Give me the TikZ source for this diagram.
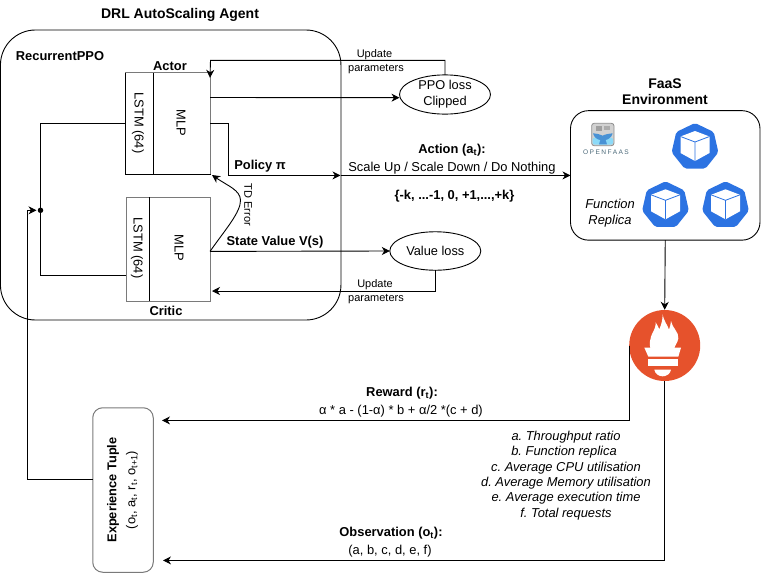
\documentclass[tikz,border=0pt]{standalone}
\usepackage{fontspec}
\setmainfont{Liberation Sans}
\usetikzlibrary{arrows.meta,shapes.geometric,calc}
\definecolor{edgegray}{HTML}{7A7A7A}
\definecolor{kubeblue}{HTML}{2C73E2}
\definecolor{promorange}{HTML}{E6522C}
\newcommand{\sz}[1]{\frenchspacing\fontsize{#1}{#1}\selectfont}
\tikzset{
  wire/.style={draw=black,line width=0.9pt},
  flow/.style={wire,-{Stealth[length=8pt,width=8pt,inset=2.5pt]}},
  block/.style={draw=black,line width=1pt,rectangle,inner sep=0pt,outer sep=0pt},
  panel/.style={draw=black,line width=0.9pt,rectangle,inner sep=0pt,outer sep=0pt},
  lossnode/.style={draw=black,line width=0.9pt,ellipse,inner sep=0pt,outer sep=0pt,align=center,font=\sz{12.8}},
  label/.style={inner sep=0pt,outer sep=0pt,align=center,font=\sz{12.9}},
  boldlabel/.style={label,font=\sz{12.9}\bfseries},
  titlelabel/.style={label,font=\sz{14}\bfseries},
  smalllabel/.style={label,font=\sz{11}},
  itlabel/.style={label,font=\sz{12.9}\itshape},
  pics/kubecube/.style={code={
    \fill[kubeblue,rounded corners=2pt] (-90:24) -- (-38.6:24) -- (12.9:24) -- (64.3:24)
       -- (115.7:24) -- (167.1:24) -- (218.6:24) -- cycle;
    \fill[white] (0,-16) -- (14.5,-10.5) -- (14.5,6) -- (0,14) -- (-14.5,6) -- (-14.5,-10.5) -- cycle;
    \draw[kubeblue,line width=0.8pt] (-14.5,-10.5) -- (0,-5) -- (14.5,-10.5) (0,-5) -- (0,14);
  }}
}
\begin{document}
\begin{tikzpicture}[x=1pt,y=-1pt]
\useasboundingbox (0,0) rectangle (761,573);

% agent container
\node[panel,rounded corners=35pt,minimum width=340.5pt,minimum height=290pt] (agent) at (170.7,175) {};
\node[titlelabel] (agenttitle) at (180,15) {DRL AutoScaling Agent};
\node[boldlabel] (ppotitle) at (60,56) {RecurrentPPO};

% actor network
\node[block,minimum width=28pt,minimum height=102pt] (actorL) at (139,123) {};
\node[block,minimum width=57pt,minimum height=102pt] (actorM) at (181.5,123) {};
\draw[edgegray,line width=1pt] (actorL.north west) -- (actorM.north east) -- (actorM.south east);
\node[label,rotate=-90] (actorLt) at (138,123) {LSTM (64)};
\node[label,rotate=-90] (actorMt) at (181,123) {MLP};
\node[boldlabel] (actorname) at (170,66) {Actor};

% critic network
\node[block,draw=edgegray,minimum width=84pt,minimum height=104pt] (critic) at (168,249) {};
\node[block,draw=none,minimum width=23.5pt,minimum height=104pt] (criticL) at (137.75,249) {};
\node[block,draw=none,minimum width=60.5pt,minimum height=104pt] (criticM) at (179.75,249) {};
\draw[black,line width=1pt] (criticL.north east) -- (criticL.south east);
\node[label,rotate=-90] (criticLt) at (137,248) {LSTM (64)};
\node[label,rotate=-90] (criticMt) at (179,248) {MLP};
\node[boldlabel] (criticname) at (166,311) {Critic};

% shared input junction
\node[circle,fill=black,inner sep=0pt,minimum size=5.5pt] (merge) at (40.5,210.3) {};

% losses
\node[lossnode,minimum width=91pt,minimum height=39pt] (ppo) at (445,94.5) {PPO loss\\[3pt]Clipped};
\node[lossnode,minimum width=91pt,minimum height=38.5pt] (vloss) at (435.3,251) {Value loss};

% FaaS environment
\node[panel,rounded corners=18pt,minimum width=189.5pt,minimum height=129.5pt] (faas) at (665.25,175.4) {};
\node[titlelabel] (faastitle) at (665,91.5) {FaaS\\[1.5pt]Environment};
\node[itlabel] (replica) at (610,213.5) {Function\\[3pt]Replica};
\pic at (695,147) {kubecube};
\pic at (665.5,205.3) {kubecube};
\pic at (725.5,205.3) {kubecube};

% OpenFaaS logo
\begin{scope}[shift={(575,115)},x=0.3333pt,y=-0.3333pt]
  \draw[fill=gray!35,draw=gray!90,line width=0.8pt,rounded corners=2.5pt] (50,25) rectangle (117,92);
  \fill[gray!75] (63,32) rectangle (80,47);
  \fill[gray!65] (86,34) rectangle (106,46);
  \fill[cyan!45!white,rounded corners=2pt] (53,68) rectangle (114,89);
  \fill[cyan!60!blue!75!white] (54,55) .. controls (66,56) and (76,58) .. (83,62)
     .. controls (90,58) and (102,56) .. (113,55) .. controls (110,68) and (98,74) .. (92,75)
     -- (96,88) -- (72,88) -- (76,75) .. controls (68,74) and (57,68) .. (54,55) -- cycle;
\end{scope}
\node[inner sep=0pt,text=cyan!40!black,font={\sz{6.6}\addfontfeatures{LetterSpace=22}}] (faaslogo) at (606,152.5) {OPENFAAS};

% Prometheus logo
\node[circle,fill=promorange,inner sep=0pt,minimum size=71pt] (prom) at (664.7,345.5) {};
\begin{scope}[shift={(625,305)},x=0.3333pt,y=-0.3333pt]
  \fill[white] (113,28) .. controls (117,50) and (128,60) .. (132,74)
     .. controls (135,66) and (137,58) .. (138,48)
     .. controls (142,70) and (162,80) .. (160,100)
     .. controls (158,113) and (150,120) .. (148,128) -- (168,128) -- (160,155) -- (70,155) -- (58,128) -- (76,128)
     .. controls (72,115) and (76,105) .. (78,95)
     .. controls (82,80) and (92,75) .. (92,52)
     .. controls (96,60) and (101,66) .. (103,73)
     .. controls (109,58) and (113,45) .. (113,28) -- cycle;
  \fill[white] (68,163) rectangle (158,182);
  \fill[white] (88,194) -- (138,194) .. controls (136,207) and (124,214) .. (113,214)
     .. controls (102,214) and (90,207) .. (88,194) -- cycle;
\end{scope}

% experience buffer
\node[draw=edgegray,line width=1pt,rectangle,rounded corners=10pt,inner sep=0pt,outer sep=0pt,
      minimum width=60.5pt,minimum height=164.5pt] (exp) at (123,490) {};
\node[titlelabel,rotate=90,font=\sz{12.8}\bfseries] (exptitle) at (113,490) {Experience Tuple};
\node[label,rotate=90] (expsub) at (132,490) {(o\textsubscript{t}, a\textsubscript{t}, r\textsubscript{t}, o\textsubscript{t+1})};

% free ends of connectors
\coordinate (actionsplit) at (340.5,175.4);
\coordinate (rewardend) at (162,420.4);
\coordinate (obsend) at (163,560.4);
\coordinate (ppoupdate) at ([yshift=-5.8pt]actorM.north east);
\coordinate (vupdate) at ([xshift=2pt,yshift=10pt]critic.south east);

% connectors
\draw[wire] (actorL.west) -| (merge.center);
\draw[wire] ([yshift=-26pt]criticL.west -| critic.west) -| (merge.center);
\draw[flow] ([yshift=11pt]exp.west) -| ([xshift=-13.5pt]merge.center) -- ([xshift=-4pt]merge.center);
\draw[flow] ([yshift=25.5pt]actorM.east) -- ([yshift=-3.2pt]ppo.west);
\draw[flow] (ppo.north) |- ($(actorM.north east)+(0.5,-11.7)$) -- (ppoupdate);
\draw[flow] (actorM.east) -- ++(18.5,0) |- (actionsplit);
\draw[flow] (actionsplit) -- (faas.west);
\draw[flow] ([yshift=-2.4pt]criticM.east) -- (vloss.west);
\draw[flow] (vloss.south) |- (vupdate);
\draw[flow] ([yshift=-2.4pt]criticM.east) .. controls (225,230) and (241,212) .. (240.5,200)
   .. controls (240,190) and (228,186) .. ([xshift=2pt,yshift=-1pt]actorM.south east);
\draw[flow] (faas.south) -- (prom.north);
\draw[flow] (prom.west) |- (rewardend);
\draw[flow] (prom.south) |- (obsend);

% connector and signal labels
\node[smalllabel] (upd1) at (374.5,55) {Update};
\node[smalllabel] (upd1b) at (376,69) {parameters};
\node[smalllabel] (upd2) at (375,285) {Update};
\node[smalllabel] (upd2b) at (376,299) {parameters};
\node[smalllabel,rotate=-90] (tderr) at (248,205) {TD Error};
\node[boldlabel] (policy) at (260,166) {Policy π};
\node[boldlabel] (stateval) at (275,242) {State Value V(s)};
\node[boldlabel] (actiontitle) at (452,150.5) {Action (a\textsubscript{t}):};
\node[label] (actionopts) at (452,168) {Scale Up / Scale Down / Do Nothing};
\node[boldlabel] (actionset) at (454.5,196) {\{-k, ...-1, 0, +1,...,+k\}};
\node[boldlabel] (rewardtitle) at (402,393) {Reward (r\textsubscript{t}):};
\node[label] (rewardf) at (401,411) {α * a - (1-α) * b + α/2 *(c + d)};
\node[itlabel] (m1) at (566,436.7) {a. Throughput ratio};
\node[itlabel] (m2) at (564,451.8) {b. Function replica};
\node[itlabel] (m3) at (566,467.7) {c. Average CPU utilisation};
\node[itlabel] (m4) at (566,483.5) {d. Average Memory utilisation};
\node[itlabel] (m5) at (566,498.6) {e. Average execution time};
\node[itlabel] (m6) at (566,514.5) {f. Total requests};
\node[boldlabel] (obstitle) at (391,533) {Observation (o\textsubscript{t}):};
\node[label] (obsset) at (390,551) {(a, b, c, d, e, f)};
\end{tikzpicture}
\end{document}
